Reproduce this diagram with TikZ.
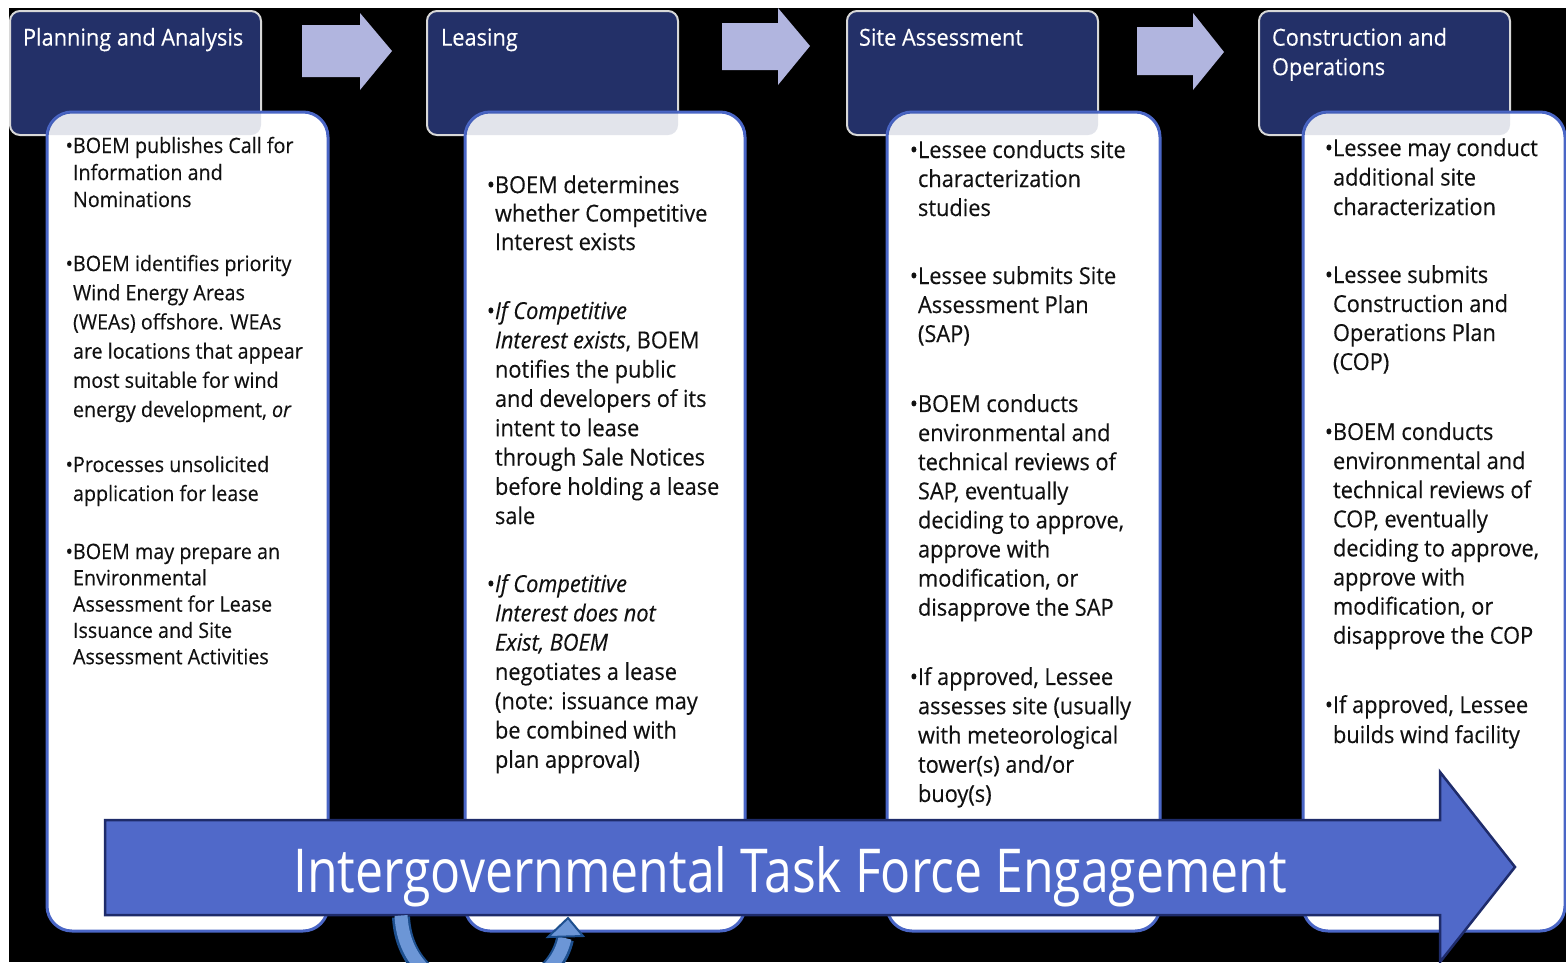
\documentclass[tikz,border=0pt]{standalone}
\usepackage{fontspec}
\usepackage{graphicx}
\setmainfont{Open Sans}[FakeStretch=0.93,FakeBold=0.3]
\newfontfamily\titlefont{Open Sans}
\definecolor{hdr}{HTML}{233068}
\definecolor{hdrline}{HTML}{D8D8D8}
\definecolor{bodyline}{HTML}{4A66C6}
\definecolor{smallarr}{HTML}{B1B5DF}
\definecolor{bigarr}{HTML}{5069C9}
\definecolor{bigline}{HTML}{1E2B6A}
\definecolor{txt}{HTML}{111111}
\definecolor{curvline}{HTML}{1D4F8E}
\definecolor{curvfill}{HTML}{6C96D6}
\tikzset{
  hdrbox/.style={draw=hdrline, line width=2pt, fill=hdr, rounded corners=10pt,
    anchor=north west, inner sep=0pt, outer sep=0pt, minimum width=251pt, minimum height=124pt},
  bodybox/.style={draw=bodyline, line width=3pt, fill=white, rounded corners=25pt,
    anchor=north west, inner sep=0pt, outer sep=0pt, minimum height=819pt},
  para/.style={anchor=north west, inner sep=0pt, outer sep=0pt, align=left, text=txt,
    font=\fontsize{23.4}{#1}\selectfont},
  para/.default=29,
  parasmall/.style={anchor=north west, inner sep=0pt, outer sep=0pt, align=left, text=txt,
    font=\fontsize{21.2}{#1}\selectfont},
  parasmall/.default=29,
  hdrtext/.style={anchor=north west, inner sep=0pt, outer sep=0pt, align=left, text=white,
    font=\fontsize{23.4}{29.5}\selectfont},
  smallarrow/.style={fill=smallarr},
  bigarrow/.style={fill=bigarr, draw=bigline, line width=2.5pt, line join=miter}
}
\begin{document}
\begin{tikzpicture}[x=1pt,y=-1pt]
\useasboundingbox (0,0) rectangle (1566,962);
\fill[white] (0,0) rectangle (1566,962);
\fill[black] (9,8) rectangle (1566,962);

% header boxes
\node[hdrbox] (h1) at (10,11) {};
\node[hdrbox] (h2) at (427,11) {};
\node[hdrbox] (h3) at (847,11) {};
\node[hdrbox] (h4) at (1259,11) {};

\node[hdrtext] (t1) at (23,25) {\strut Planning and Analysis};
\node[hdrtext] (t2) at (441,25) {\strut Leasing};
\node[hdrtext] (t3) at (859,25) {\strut Site Assessment};
\node[hdrtext] (t4) at (1272,25) {\strut Construction and\\Operations};

% small arrows between headers
\fill[smallarrow] (302,25) -- (360,25) -- (360,13) -- (392,51) -- (360,90) -- (360,77) -- (302,77) -- cycle;
\fill[smallarrow] (722,23) -- (778,23) -- (778,8) -- (810,46) -- (778,85) -- (778,70) -- (722,70) -- cycle;
\fill[smallarrow] (1137,27) -- (1193,27) -- (1193,13) -- (1224,52) -- (1193,90) -- (1193,75) -- (1137,75) -- cycle;

% body boxes
\node[bodybox, minimum width=281pt] (b1) at (47,112) {};
\node[bodybox, minimum width=280pt] (b2) at (465,112) {};
\node[bodybox, minimum width=273pt] (b3) at (887,112) {};
\node[bodybox, minimum width=262pt] (b4) at (1303,112) {};

% tint where body boxes overlap headers
\foreach \b/\h in {b1/h1,b2/h2,b3/h3,b4/h4}{
  \begin{scope}
    \clip[rounded corners=25pt] (\b.north west) rectangle (\b.south east);
    \fill[hdr, opacity=0.13, rounded corners=10pt] (\h.north west) rectangle (\h.south east);
  \end{scope}
}

% column 1
\node[parasmall=27] (p11) at (73,134.1) {\strut\llap{•}BOEM publishes Call for\\Information and\\Nominations};
\node[parasmall=29.2] (p12) at (73,250.6) {\strut\llap{•}BOEM identifies priority\\Wind Energy Areas\\(WEAs) offshore. WEAs\\are locations that appear\\most suitable for wind\\energy development, \textit{or}};
\node[parasmall=29] (p13) at (73,451.7) {\strut\llap{•}Processes unsolicited\\application for lease};
\node[parasmall=26.3] (p14) at (73,540.6) {\strut\llap{•}BOEM may prepare an\\Environmental\\Assessment for Lease\\Issuance and Site\\Assessment Activities};

% column 2
\node[para=28.5] (p21) at (495,173.1) {\strut\llap{•}BOEM determines\\whether Competitive\\Interest exists};
\node[para=29.3] (p22) at (495,298.5) {\strut\llap{•}\textit{If Competitive}\\\textit{Interest exists}, BOEM\\notifies the public\\and developers of its\\intent to lease\\through Sale Notices\\before holding a lease\\sale};
\node[para=29.3] (p23) at (495,571.5) {\strut\llap{•}\textit{If Competitive}\\\textit{Interest does not}\\\textit{Exist, BOEM}\\negotiates a lease\\(note: issuance may\\be combined with\\plan approval)};

% column 3
\node[para=29] (p31) at (918,137.7) {\strut\llap{•}Lessee conducts site\\characterization\\studies};
\node[para=29] (p32) at (918,263.7) {\strut\llap{•}Lessee submits Site\\Assessment Plan\\(SAP)};
\node[para=29.1] (p33) at (918,391.6) {\strut\llap{•}BOEM conducts\\environmental and\\technical reviews of\\SAP, eventually\\deciding to approve,\\approve with\\modification, or\\disapprove the SAP};
\node[para=29.25] (p34) at (918,664.5) {\strut\llap{•}If approved, Lessee\\assesses site (usually\\with meteorological\\tower(s) and/or\\buoy(s)};

% column 4
\node[para=29.5] (p41) at (1333,135.4) {\strut\llap{•}Lessee may conduct\\additional site\\characterization};
\node[para=29] (p42) at (1333,262.7) {\strut\llap{•}Lessee submits\\Construction and\\Operations Plan\\(COP)};
\node[para=29.1] (p43) at (1333,419.6) {\strut\llap{•}BOEM conducts\\environmental and\\technical reviews of\\COP, eventually\\deciding to approve,\\approve with\\modification, or\\disapprove the COP};
\node[para=30] (p44) at (1333,692) {\strut\llap{•}If approved, Lessee\\builds wind facility};

% big arrow
\draw[bigarrow] (105,820) -- (1440,820) -- (1440,772) -- (1515,867) -- (1440,962) -- (1440,915) -- (105,915) -- cycle;
\node[anchor=base west, inner sep=0pt, text=white] (title) at (293,892)
  {\resizebox{994pt}{46pt}{\titlefont Intergovernmental Task Force Engagement}};

% curved arrow below
\coordinate (cs) at (401,917);
\coordinate (ce) at (565,939);
\coordinate (ctip) at (568,918);
\begin{scope}
  \clip (9,8) rectangle (1566,962);
  \draw[curvline, line width=18pt] (cs) .. controls (406,1015) and (548,1015) .. (ce);
  \draw[curvfill, line width=13pt] ([yshift=1.5pt]cs) .. controls (406,1015) and (548,1015) .. ([yshift=1pt]ce);
  \filldraw[fill=curvfill, draw=curvline, line width=2pt, line join=miter] (548,937) -- (ctip) -- (583,936) -- cycle;
\end{scope}
\end{tikzpicture}
\end{document}
